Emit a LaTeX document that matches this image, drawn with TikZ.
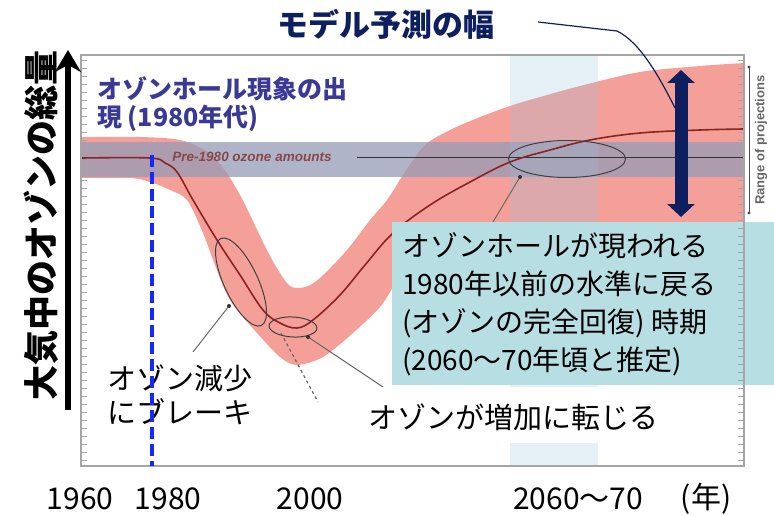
\documentclass[tikz,border=0pt]{standalone}
\usepackage{fontspec}
\setmainfont{Noto Sans CJK JP}
\newfontfamily\latinsans{Liberation Sans}
\usetikzlibrary{arrows.meta,shapes.geometric}

\definecolor{bandpink}{RGB}{244,160,152}
\definecolor{bandgray}{RGB}{150,155,182}
\definecolor{colblue}{RGB}{150,195,225}
\definecolor{curvered}{RGB}{140,35,35}
\definecolor{navyblue}{RGB}{13,31,95}
\definecolor{headblue}{RGB}{58,58,150}
\definecolor{dashblue}{RGB}{20,40,255}
\definecolor{boxteal}{RGB}{183,222,226}
\definecolor{framegray}{RGB}{165,165,165}
\definecolor{leadgray}{RGB}{105,105,105}

\tikzset{
  ring/.style={draw=black!75, line width=1pt, ellipse, inner sep=0pt},
  leader/.style={leadgray, line width=1pt},
  jpbig/.style={font=\fontsize{30}{30}\selectfont, inner sep=0pt},
  jpbox/.style={font=\fontsize{28}{38}\selectfont, inner sep=0pt, align=left, anchor=west},
}

\begin{document}
\begin{tikzpicture}[x=1pt,y=-1pt]
\useasboundingbox (0,0) rectangle (774,516);

\fill[bandpink] (82,137) -- plot[smooth] coordinates {(82,137) (140,137) (180,140) (208,152) (226,172) (240,195) (250,215) (262,240) (275,265) (290,286) (305,287) (320,278) (347,250) (370,220) (387,200) (405,172) (425,145) (450,130) (480,117) (510,106) (533,99) (580,86) (640,72) (700,66) (744,63)}
  -- (744,240) -- (440,240) -- plot[smooth] coordinates {(393,287) (380,307) (353,333) (323,357) (297,365) (280,357) (257,333) (230,300) (215,265) (203,233) (187,200) (170,190) (150,182) (130,178) (82,178)} -- cycle;
\fill[bandgray, opacity=0.75] (82,142) rectangle (744,177);
\fill[colblue, opacity=0.25] (510,55) rectangle (598,466);

\node[font=\latinsans\bfseries\itshape\fontsize{13.5}{13.5}\selectfont, text=curvered!60!gray, inner sep=0pt] (pre) at (252,157) {Pre-1980 ozone amounts};
\draw[black!80, line width=0.8pt] (357,157) -- (744,157);

\draw[curvered, line width=1.6pt] plot[smooth, tension=0.6] coordinates {(82,158) (150,158) (165,163) (177,172) (193,200) (217,240) (240,275) (263,310) (280,323) (297,328) (313,320) (340,295) (365,265) (393,233) (430,205) (470,182) (510,162) (550,150) (590,140) (640,133) (700,130) (744,129)};
\draw[leadgray, line width=1.2pt, dash pattern=on 3pt off 3pt] (281,333) -- (318,402);

\node[ring, minimum width=96pt, minimum height=34pt, rotate=-65] (fall) at (241,282) {};
\node[ring, minimum width=48pt, minimum height=20pt, rotate=-3] (turn) at (293,327) {};
\node[ring, minimum width=117pt, minimum height=37pt] (recov) at (567,159) {};

\coordinate (d1) at (229,306);
\coordinate (d2) at (308,337);
\coordinate (d3) at (520,177);
\coordinate (b1) at (193,352);
\coordinate (b2) at (383,387);
\coordinate (b3) at (493,222);
\draw[leader] (d1) -- (b1);
\draw[leader] (d2) -- (b2);
\draw[leader] (d3) -- (b3);
\fill[black!80] (d1) circle (2);
\fill[black!80] (d2) circle (2);
\fill[black!80] (d3) circle (2);

\fill[white] (95,352) rectangle (273,448);
\fill[white] (365,387) rectangle (700,443);
\fill[boxteal] (392,222) rectangle (774,385);

\node[font=\fontsize{29}{34}\selectfont, inner sep=0pt, align=left, anchor=west] (brake) at (107,395) {オゾン減少\\にブレーキ};
\node[font=\fontsize{29}{29}\selectfont, inner sep=0pt, anchor=west] (rise) at (368,417) {オゾンが増加に転じる};
\node[jpbox] (back) at (402,304) {オゾンホールが現われる\\1980年以前の水準に戻る\\(オゾンの完全回復) 時期\\(2060〜70年頃と推定)};

\draw[framegray, line width=1.6pt] (81,55) rectangle (744,466);
\foreach \ty in {60,68,...,460} {
  \draw[framegray, line width=0.8pt] (81,\ty) -- (87,\ty);
  \draw[framegray, line width=0.8pt] (744,\ty) -- (738,\ty);
}
\draw[black!70, line width=0.8pt] (749,67) -- (749,213);
\fill[black!70] (749,67) circle (1.6);
\fill[black!70] (749,213) circle (1.6);
\node[rotate=90, font=\latinsans\bfseries\fontsize{13}{13}\selectfont, text=black!60, inner sep=0pt] (range) at (761,140) {Range of projections};

\draw[dashblue, line width=3.2pt, dash pattern=on 12pt off 5pt] (152,155) -- (152,466);

\node[font=\bfseries\fontsize{25}{28}\selectfont, text=headblue, inner sep=0pt, align=left, anchor=west] (hole) at (97,104) {オゾンホール現象の出\\現 (1980年代)};

\coordinate (rtop) at (681,70);
\coordinate (rbot) at (681,217);
\draw[navyblue, line width=13pt, {Triangle[width=27pt,length=13pt]}-{Triangle[width=27pt,length=13pt]}] (rtop) -- (rbot);
\node[font=\bfseries\fontsize{31}{31}\selectfont, text=navyblue, inner sep=0pt] (model) at (386,24) {モデル予測の幅};
\coordinate (m0) at (538,22);
\coordinate (m1) at (675,108);
\draw[navyblue, line width=1.2pt] (m0) -- (617,31) .. controls (640,42) and (660,78) .. (m1);

\coordinate (ybot) at (68,410);
\coordinate (ytop) at (68,50);
\draw[line width=6pt, -{Stealth[width=26pt,length=22pt]}] (ybot) -- (ytop);
\node[rotate=90, font=\bfseries\fontsize{35}{35}\selectfont, inner sep=0pt] (ylab) at (41,225) {大気中のオゾンの総量};

\node[jpbig] (y1960) at (80,499) {1960};
\node[jpbig] (y1980) at (168,499) {1980};
\node[jpbig] (y2000) at (310,499) {2000};
\node[jpbig] (y2060) at (578,499) {2060〜70};
\node[jpbig] (nen) at (706,499) {(年)};

\end{tikzpicture}
\end{document}
